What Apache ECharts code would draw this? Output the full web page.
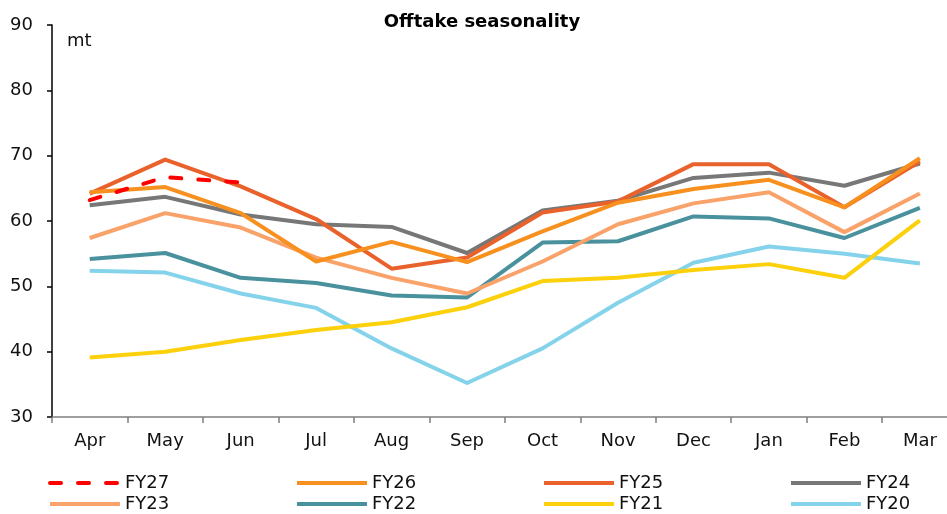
<!DOCTYPE html>
<html>
<head>
<meta charset="utf-8">
<script src="https://cdn.jsdelivr.net/npm/echarts@6/dist/echarts.min.js"></script>
<style>html,body{margin:0;padding:0;background:#fff}#c{width:947px;height:514px}</style>
</head>
<body>
<div id="c"></div>
<script>
const months = ['Apr','May','Jun','Jul','Aug','Sep','Oct','Nov','Dec','Jan','Feb','Mar'];
const yTicks = [30, 40, 50, 60, 70, 80, 90];
const FY27 = [63.2, 66.7, 65.9, null, null, null, null, null, null, null, null, null];
const FY26 = [64.4, 65.2, 61.2, 53.8, 56.8, 53.7, 58.4, 62.8, 64.9, 66.3, 62.1, 69.6];
const FY25 = [64.2, 69.4, 65.3, 60.3, 52.7, 54.4, 61.3, 63.0, 68.7, 68.7, 62.1, 69.1];
const FY24 = [62.4, 63.7, 61.0, 59.5, 59.1, 55.1, 61.6, 63.1, 66.6, 67.4, 65.4, 68.8];
const FY23 = [57.4, 61.2, 59.0, 54.4, 51.3, 48.9, 53.8, 59.5, 62.7, 64.4, 58.3, 64.2];
const FY22 = [54.2, 55.1, 51.3, 50.5, 48.6, 48.3, 56.7, 56.9, 60.7, 60.4, 57.4, 62.0];
const FY21 = [39.1, 40.0, 41.8, 43.3, 44.5, 46.8, 50.8, 51.3, 52.5, 53.4, 51.3, 60.1];
const FY20 = [52.4, 52.1, 48.9, 46.7, 40.5, 35.2, 40.5, 47.5, 53.6, 56.1, 55.0, 53.5];

const seriesDefs = [
  {name:'FY20', data:FY20, color:'#85D3EA'},
  {name:'FY21', data:FY21, color:'#FCD00A'},
  {name:'FY22', data:FY22, color:'#4A919E'},
  {name:'FY23', data:FY23, color:'#F9A26A'},
  {name:'FY24', data:FY24, color:'#777777'},
  {name:'FY25', data:FY25, color:'#E9622B'},
  {name:'FY26', data:FY26, color:'#F7901E'},
  {name:'FY27', data:FY27, color:'#FF0000', dash:[11,17]}
];

const font = 'DejaVu Sans, Verdana, sans-serif';
function legendCol(left, names){
  return {
    orient:'vertical', left:left, top:474, padding:0,
    itemWidth:70, itemHeight:14, itemGap:3,
    data:names,
    itemStyle:{opacity:0},
    lineStyle:{width:4},
    textStyle:{fontFamily:font, fontSize:18, color:'#111', lineHeight:18}
  };
}

const chart = echarts.init(document.getElementById('c'), null, {renderer:'canvas'});
chart.setOption({
  animation:false,
  backgroundColor:'#fff',
  title:{
    text:'Offtake seasonality', left:477, top:8, textAlign:'center',
    textStyle:{fontFamily:font, fontSize:18, fontWeight:'bold', color:'#000'}
  },
  legend:[
    legendCol(48, ['FY27','FY23']),
    legendCol(295, ['FY26','FY22']),
    legendCol(542, ['FY25','FY21']),
    legendCol(789, ['FY24','FY20'])
  ],
  grid:{left:52, top:25, width:905.6, height:392, containLabel:false, outerBoundsMode:'none'},
  xAxis:{
    type:'category', data:months, boundaryGap:true,
    axisLine:{lineStyle:{color:'#7f7f7f', width:1.5}},
    axisTick:{show:true, length:6, lineStyle:{color:'#7f7f7f', width:1.5}},
    axisLabel:{fontFamily:font, fontSize:18, color:'#111', margin:15, interval:0},
    splitLine:{show:false}
  },
  yAxis:{
    type:'value', min:yTicks[0], max:yTicks[yTicks.length-1], interval:10,
    axisLine:{show:true, lineStyle:{color:'#000', width:1.5}},
    axisTick:{show:true, length:5, lineStyle:{color:'#000', width:1.5}},
    axisLabel:{fontFamily:font, fontSize:18, color:'#111', margin:19},
    splitLine:{show:false}
  },
  graphic:[{
    type:'text', left:67, top:32,
    style:{text:'mt', fontFamily:font, fontSize:18, fill:'#111'}
  }],
  series: seriesDefs.map(s => ({
    name:s.name, type:'line', data:s.data, symbol:'none', smooth:false,
    color:s.color,
    lineStyle:{color:s.color, width:4, type:s.dash || 'solid', cap:s.dash ? 'round' : 'butt', join:'round'},
    itemStyle:{color:s.color},
    connectNulls:false
  }))
});
</script>
</body>
</html>
